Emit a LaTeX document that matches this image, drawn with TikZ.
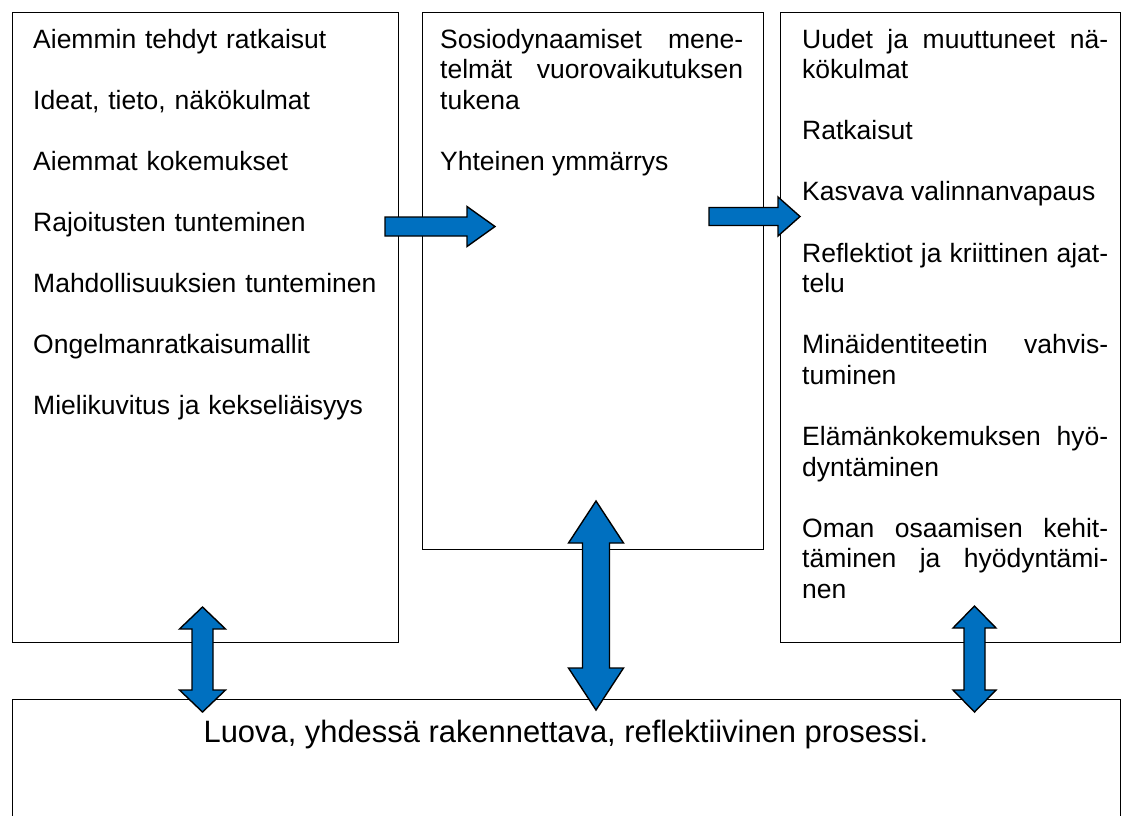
\documentclass[tikz,border=0pt]{standalone}
\usepackage{fontspec}
\setmainfont{Liberation Sans}
\definecolor{arrowblue}{HTML}{0070C0}
\tikzset{
  box/.style={draw, line width=1.4pt, inner sep=0pt, anchor=north west},
  txt/.style={anchor=north west, inner sep=0pt, text width=306pt, align=justify,
    font={\fontsize{26.5}{30.56}\selectfont},
    execute at begin node={\setlength{\parskip}{30.56pt}\tolerance=10000\hyphenpenalty=10000\strut}},
  bluearrow/.style={fill=arrowblue, draw=black, line width=1.4pt, line join=miter}
}

\begin{document}
\begin{tikzpicture}[x=1pt,y=-1pt]
\useasboundingbox (0,0) rectangle (1132,815);
\clip (0,0) rectangle (1132,815);

\node[box, minimum width=386pt, minimum height=630pt] (N1) at (12,12) {};
\node[box, minimum width=341pt, minimum height=537pt] (N2) at (422,12) {};
\node[box, minimum width=340pt, minimum height=630pt] (N3) at (780,12) {};
\node[box, minimum width=1108pt, minimum height=160pt] (N4) at (12,699) {};

\node[txt, text width=358pt, align=left] (T1) at (33,26.6) {Aiemmin tehdyt ratkaisut\par
Ideat, tieto, näkökulmat\par
Aiemmat kokemukset\par
Rajoitusten tunteminen\par
Mahdollisuuksien tunteminen\par
Ongelmanratkaisumallit\par
Mielikuvitus ja kekseliäisyys};

\node[txt, text width=303pt] (T2) at (440,26.6) {Sosiodynaamiset mene-\linebreak telmät vuorovaikutuksen\linebreak tukena\par
Yhteinen ymmärrys};

\node[txt] (T3) at (802,26.6) {Uudet ja muuttuneet nä-\linebreak kökulmat\par
Ratkaisut\par
Kasvava valinnanvapaus\par
Reflektiot ja kriittinen ajat-\linebreak telu\par
Minäidentiteetin vahvis-\linebreak tuminen\par
Elämänkokemuksen hyö-\linebreak dyntäminen\par
Oman osaamisen kehit-\linebreak täminen ja hyödyntämi-\linebreak nen};

\node[anchor=base, inner sep=0pt, font={\fontsize{30.9}{35}\selectfont}] (T4) at (566,742)
  {Luova, yhdessä rakennettava, reflektiivinen prosessi.};

\filldraw[bluearrow] (385,217) -- (467,217) -- (467,206.5) -- (495,226.5) -- (467,246.5)
  -- (467,236) -- (385,236) -- cycle;
\filldraw[bluearrow] (709,207.5) -- (778,207.5) -- (778,197) -- (800,216.5) -- (778,236)
  -- (778,225.5) -- (709,225.5) -- cycle;

\filldraw[bluearrow] (202.5,607) -- (225.5,629) -- (213,629) -- (213,690) -- (225.5,690)
  -- (202.5,712) -- (179.5,690) -- (192,690) -- (192,629) -- (179.5,629) -- cycle;
\filldraw[bluearrow] (596,501) -- (623.5,543) -- (609.5,543) -- (609.5,668) -- (623.5,668)
  -- (596,710) -- (568.5,668) -- (582.5,668) -- (582.5,543) -- (568.5,543) -- cycle;
\filldraw[bluearrow] (974.5,606) -- (996,628) -- (985,628) -- (985,690) -- (996,690)
  -- (974.5,712) -- (953,690) -- (964,690) -- (964,628) -- (953,628) -- cycle;
\end{tikzpicture}
\end{document}
